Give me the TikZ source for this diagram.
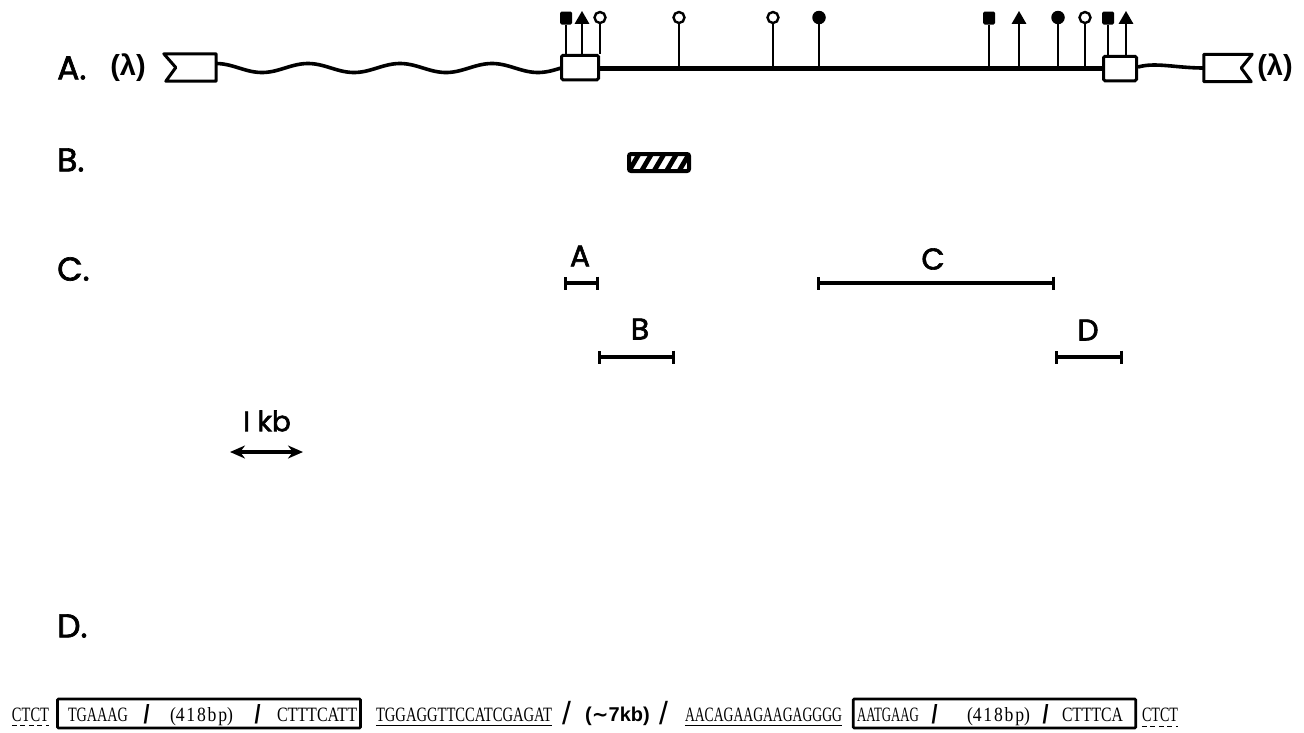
\documentclass[tikz,border=0pt]{standalone}
\usepackage{fontspec}
\usepackage{graphicx}
\setmainfont{Liberation Serif}
\newfontfamily\labfont[FakeBold=2]{Poppins}
\newfontfamily\boldsans{Liberation Sans}
\newfontfamily\tildefont{DejaVu Sans}
\newfontfamily\seqfont{Liberation Serif}
\usetikzlibrary{arrows.meta,shapes.geometric}

% sequence text squeezed to a given width, caps 13.5pt high
\newcommand\seqtxt[2]{\resizebox{#1pt}{13.5pt}{\seqfont #2}}
\newcommand\spacedbp{\resizebox{63pt}{14pt}{\seqfont (4\kern1pt 1\kern1pt 8\kern1pt b\kern1pt p)}}
\newcommand\shortslash{\resizebox{6pt}{19pt}{\boldsans\bfseries /}}

\begin{document}
\begin{tikzpicture}[x=1pt,y=-1pt,
  rowlab/.style={font=\labfont\fontsize{33}{33}\selectfont, anchor=west, inner sep=0},
  barlab/.style={font=\labfont\fontsize{30}{30}\selectfont, inner sep=0},
  lam/.style={font=\boldsans\bfseries\fontsize{29}{29}\selectfont, inner sep=0},
  vec/.style={minimum width=#1, minimum height=27pt, inner sep=0},
  outline/.style={line width=3pt, line join=round},
  exon/.style={draw, line width=3pt, fill=white, rounded corners=1.5pt,
    minimum width=#1, minimum height=24.5pt, inner sep=0},
  wave/.style={line width=3.6pt},
  mainline/.style={line width=5pt},
  stem/.style={line width=2.8pt},
  sqm/.style={fill, rounded corners=1.5pt, minimum width=12pt, minimum height=13pt, inner sep=0},
  trim/.style={fill, regular polygon, regular polygon sides=3, minimum size=17pt, inner sep=0},
  ocm/.style={circle, draw, fill=white, line width=2.4pt, minimum size=11pt, inner sep=0},
  fcm/.style={circle, fill, minimum size=13.5pt, inner sep=0},
  hatch/.style={draw, line width=4pt, rounded corners=2pt, fill=white,
    minimum width=60pt, minimum height=17pt, inner sep=0,
    path picture={\foreach \k in {-2,...,5}
      \draw[line width=4.8pt] ([xshift=\k*12.5pt]path picture bounding box.south west) -- ++(10pt,17pt);}},
  bar/.style={line width=3.2pt, {Bar[width=13pt]}-{Bar[width=13pt]}},
  scalebar/.style={line width=3.6pt, {Stealth[length=15pt,width=13pt]}-{Stealth[length=15pt,width=13pt]}},
  seq/.style={inner sep=0, anchor=base},
  seqbox/.style={draw, line width=2.6pt, rounded corners=1pt, minimum width=#1, minimum height=29pt, inner sep=0},
  ul/.style={line width=1.4pt},
  dashul/.style={line width=1.8pt, dash pattern=on 5pt off 3.5pt},
  sl/.style={inner sep=0},
  bigsl/.style={inner sep=0, anchor=base, font=\boldsans\fontsize{32}{32}\selectfont}
]
\fill[white] (0,0) rectangle (1304,732);
\useasboundingbox (0,0) rectangle (1304,732);

% ---------- A: clone map ----------
\node[rowlab] (lA) at (57,68) {A.};
\node[lam] (lamL) at (128,68) {(λ)};
\node[vec=52pt] (vL) at (190,67.5) {};
\draw[outline] (vL.north west) -- (vL.north east) -- (vL.south east)
  -- ([xshift=2pt]vL.south west) -- ([xshift=12pt]vL.west) -- cycle;
\node[vec=48pt] (vR) at (1228,68) {};
\draw[outline] (vR.north west) -- (vR.north east) -- ([xshift=-11pt]vR.east)
  -- ([xshift=-1pt]vR.south east) -- (vR.south west) -- cycle;
\node[lam] (lamR) at (1275,68) {(λ)};

% vector arm (wavy) and insert (straight); period 92, i.e. 3.913 degrees per unit
\draw[wave] plot[domain=216:561, samples=160, smooth, variable=\t]
  (\t,{68-4.5*cos((\t-216)*3.913)});
\draw[wave] (1138,67) .. controls +(18,-5) and +(-28,0) .. (vR.west);
\draw[mainline] (580,68) -- (1120,68);
\node[exon=37pt] (ex1) at (580,67.5) {};
\node[exon=33pt] (ex2) at (1120,68.5) {};

% restriction sites
\node[sqm] (m1) at (566,18) {};
\node[trim] (m2) at (582,19.5) {};
\node[ocm] (m3) at (600,17.5) {};
\node[ocm] (m4) at (679,17.5) {};
\node[ocm] (m5) at (773,17.5) {};
\node[fcm] (m6) at (819,17.5) {};
\node[sqm] (m7) at (989,18) {};
\node[trim] (m8) at (1019,19.5) {};
\node[fcm] (m9) at (1058,17.5) {};
\node[ocm] (m10) at (1085,17.5) {};
\node[sqm] (m11) at (1108,18) {};
\node[trim] (m12) at (1126,19.5) {};
\foreach \m in {m1,m2,m3} \draw[stem] (\m.south) -- (\m.south |- ex1.north);
\foreach \m in {m4,m5,m6,m7,m8,m9,m10} \draw[stem] (\m.south) -- (\m.south |- ex1.east);
\foreach \m in {m11,m12} \draw[stem] (\m.south) -- (\m.south |- ex2.north);

% ---------- B: probe ----------
\node[rowlab] (lB) at (57,160) {B.};
\node[hatch] (hb) at (659,162.5) {};

% ---------- C: subclones ----------
\node[rowlab] (lC) at (57,269) {C.};
\coordinate (a1) at (564,283); \coordinate (a2) at (599,283);
\coordinate (b1) at (598,357); \coordinate (b2) at (675,357);
\coordinate (c1) at (817,283); \coordinate (c2) at (1055,283);
\coordinate (d1) at (1055,357); \coordinate (d2) at (1123,357);
\draw[bar] (a1) -- (a2);
\draw[bar] (b1) -- (b2);
\draw[bar] (c1) -- (c2);
\draw[bar] (d1) -- (d2);
\node[barlab] (la) at (580,256) {A};
\node[barlab] (lb) at (640,329) {B};
\node[barlab] (lc) at (933,259) {C};
\node[barlab] (ld) at (1088,330) {D};

% scale
\node[barlab, font=\labfont\fontsize{28}{28}\selectfont] (kb) at (267,421) {I kb};
\coordinate (s1) at (230,452); \coordinate (s2) at (303,452);
\draw[scalebar] (s1) -- (s2);

% ---------- D: sequence ----------
\node[rowlab] (lD) at (57,626) {D.};

\node[seqbox=303pt] (box1) at (209,713.5) {};
\node[seqbox=282.5pt] (box2) at (994.5,713.5) {};

\node[seq] (t1) at (30.5,721) {\seqtxt{37}{CTCT}};
\draw[dashul] ([yshift=-4pt]t1.south west) -- ([yshift=-4pt]t1.south east);
\node[seq] (t2) at (98,721) {\seqtxt{60}{TGAAAG}};
\node[sl] (sl1) at (146.5,714) {\shortslash};
\node[seq] (t3) at (201.5,721) {\spacedbp};
\node[sl] (sl2) at (257.5,714) {\shortslash};
\node[seq] (t4) at (317,721) {\seqtxt{80}{CTTTCATT}};

\node[seq] (t5) at (464,721) {\seqtxt{176}{TGGAGGTTCCATCGAGAT}};
\draw[ul] ([yshift=-4pt]t5.south west) -- ([yshift=-4pt]t5.south east);
\node[bigsl] (bs1) at (566.5,724) {/};
\node[seq, font=\boldsans\bfseries\fontsize{20}{20}\selectfont] (t6) at (617.5,721) {({\tildefont\bfseries ∼}7kb)};
\node[bigsl] (bs2) at (663.5,724) {/};
\node[seq] (t7) at (763.5,721) {\seqtxt{157}{AACAGAAGAAGAGGGG}};
\draw[ul] ([yshift=-4pt]t7.south west) -- ([yshift=-4pt]t7.south east);

\node[seq] (t8) at (888,721) {\seqtxt{62}{AATGAAG}};
\node[sl] (sl3) at (934.5,714) {\shortslash};
\node[seq] (t9) at (998.5,721) {\spacedbp};
\node[sl] (sl4) at (1045.5,714) {\shortslash};
\node[seq] (t10) at (1092.5,721) {\seqtxt{61}{CTTTCA}};
\node[seq] (t11) at (1160,721) {\seqtxt{36}{CTCT}};
\draw[dashul] ([yshift=-5pt]t11.south west) -- ([yshift=-5pt]t11.south east);
\end{tikzpicture}
\end{document}
